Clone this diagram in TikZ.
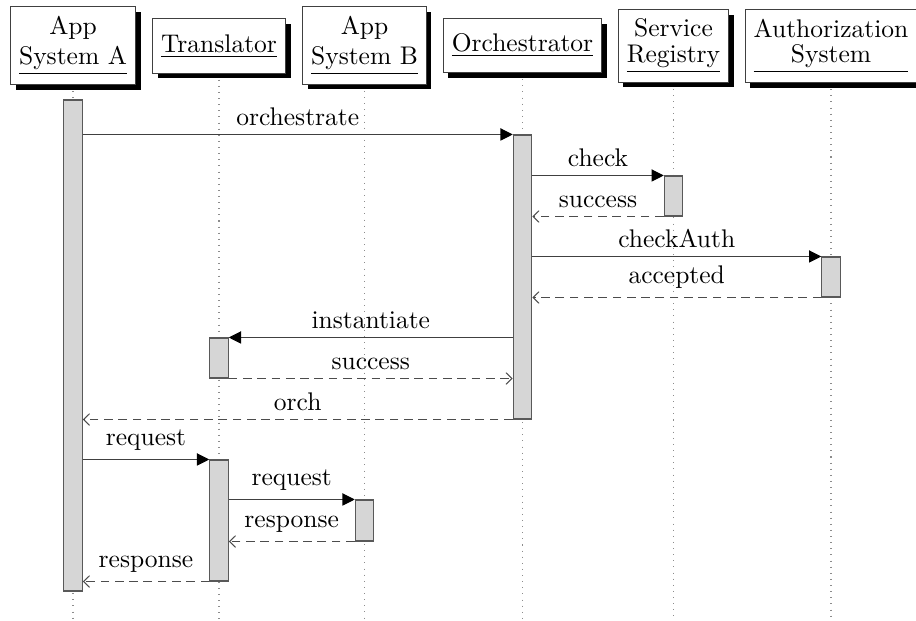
\documentclass[tikz,border=0pt]{standalone}
\usetikzlibrary{arrows.meta,shadows,fit,backgrounds}

\tikzset{
  inst/.style={draw=black!75, fill=white, inner xsep=3.33pt, inner ysep=3.63pt,
    minimum height=21.2pt,
    drop shadow={shadow xshift=2pt, shadow yshift=-2pt, fill=black, opacity=1}},
  lifeline/.style={draw=black!45, dotted},
  actbar/.style={draw=black!65, fill=black!16, inner sep=0pt},
  call/.style={draw=black!75, -{Triangle[length=4.8pt,width=4.8pt,color=black]}},
  reply/.style={draw=black!70, dash pattern=on 3.4pt off 2.2pt,
    -{Straight Barb[length=2.4pt,width=4.6pt]}},
  lbl/.style={above, midway, inner sep=3.33pt, text=black}
}

\begin{document}
\begin{tikzpicture}[x=0.392pt, y=-0.392pt]
\useasboundingbox (0,0) rectangle (916,621);

% participants
\node[inst] (sysA)  at (73,45.5)    {\underline{\shortstack{App\\System A}}};
\node[inst] (trans) at (219,46)     {\underline{Translator}};
\node[inst] (sysB)  at (364.5,45.5) {\underline{\shortstack{App\\System B}}};
\node[inst] (orch)  at (522.5,45.5) {\underline{Orchestrator}};
\node[inst] (reg)   at (673.5,46)   {\underline{\shortstack{Service\\Registry}}};
\node[inst] (auth)  at (831,46)     {\underline{\shortstack{Authorization\\System}}};

% lifelines, behind everything else
\begin{scope}[on background layer]
  \coordinate (bottom) at (0,621);
  \foreach \p in {sysA,trans,sysB,orch,reg,auth}
    \draw[lifeline] (\p.south) -- (\p.south |- bottom);
\end{scope}

% activation bars
\node[actbar, fit={(63.75,100) (82.25,591)}]    (barA)  {};
\node[actbar, fit={(513.25,135) (531.75,419)}]  (barO)  {};
\node[actbar, fit={(664.25,176) (682.75,216)}]  (barS)  {};
\node[actbar, fit={(821.75,257) (840.25,297)}]  (barZ)  {};
\node[actbar, fit={(209.75,338) (228.25,378)}]  (barT1) {};
\node[actbar, fit={(209.75,460) (228.25,581)}]  (barT2) {};
\node[actbar, fit={(355.25,500) (373.75,541)}]  (barB)  {};

% messages
\draw[call]  (barA.east |- barO.north) -- node[lbl] {orchestrate} (barO.north west);
\draw[call]  (barO.east |- barS.north) -- node[lbl] {check} (barS.north west);
\draw[reply] (barS.south west) -- node[lbl] {success} (barO.east |- barS.south);
\draw[call]  (barO.east |- barZ.north) -- node[lbl] {checkAuth} (barZ.north west);
\draw[reply] (barZ.south west) -- node[lbl] {accepted} (barO.east |- barZ.south);
\draw[call]  (barO.west |- barT1.north) -- node[lbl] {instantiate} (barT1.north east);
\draw[reply] (barT1.south east) -- node[lbl] {success} (barO.west |- barT1.south);
\draw[reply] (barO.south west) -- node[lbl] {orch} (barA.east |- barO.south);
\draw[call]  (barA.east |- barT2.north) -- node[lbl] {request} (barT2.north west);
\draw[call]  (barT2.east |- barB.north) -- node[lbl] {request} (barB.north west);
\draw[reply] (barB.south west) -- node[lbl] {response} (barT2.east |- barB.south);
\draw[reply] (barT2.south west) -- node[lbl] {response} (barA.east |- barT2.south);
\end{tikzpicture}
\end{document}
